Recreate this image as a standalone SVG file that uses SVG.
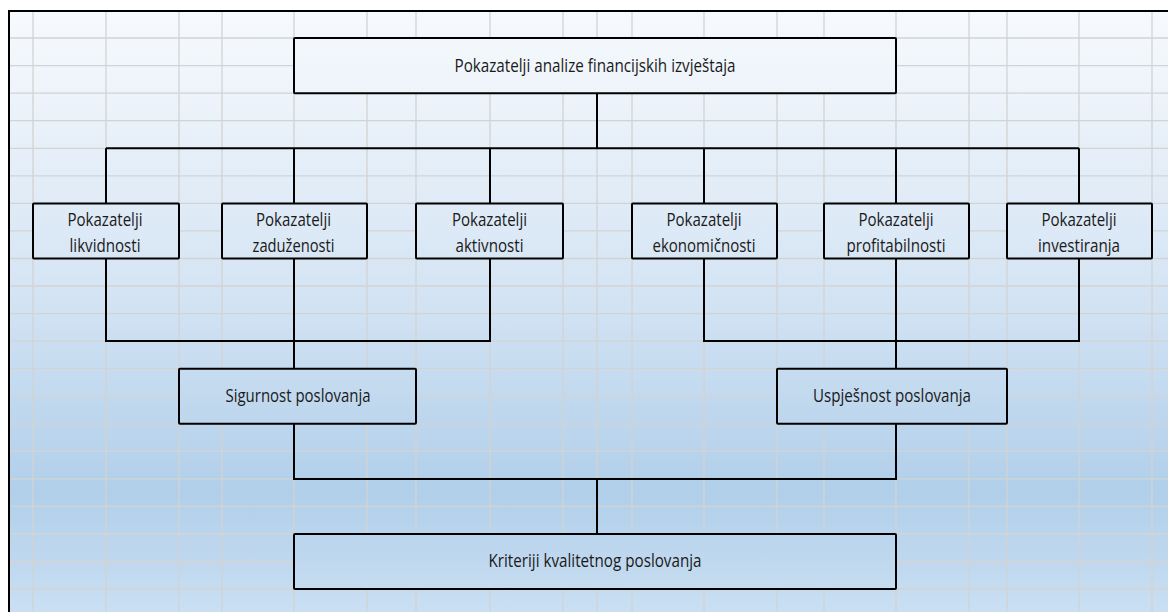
<svg xmlns="http://www.w3.org/2000/svg" width="1168" height="612" viewBox="0 0 1168 612">
  <style>
    .grid line { stroke: #d3d3d3; stroke-width: 1.3; }
    .frame { stroke: #000; stroke-width: 2; fill: none; }
    .box { fill: url(#bg); stroke: #000; stroke-width: 2; }
    .conn { fill: none; stroke: #000; stroke-width: 2; }
    text { font-family: "Open Sans", "Noto Sans", sans-serif; font-size: 17.5px; fill: #1a1a1a; text-anchor: middle; }
  </style>
  <defs>
    <linearGradient id="bg" gradientUnits="userSpaceOnUse" x1="0" y1="11" x2="0" y2="612">
      <stop offset="0" stop-color="#f7fafd"/>
      <stop offset="0.45" stop-color="#d6e5f4"/>
      <stop offset="0.8" stop-color="#b1cfea"/>
      <stop offset="1" stop-color="#cadff2"/>
    </linearGradient>
  </defs>
  <rect x="0" y="0" width="1168" height="612" fill="#ffffff"/>
  <rect x="9" y="11" width="1159" height="601" fill="url(#bg)"/>
  <g class="grid">
    <line x1="33" y1="11" x2="33" y2="612"/>
    <line x1="106" y1="11" x2="106" y2="612"/>
    <line x1="179" y1="11" x2="179" y2="612"/>
    <line x1="222" y1="11" x2="222" y2="612"/>
    <line x1="294" y1="11" x2="294" y2="612"/>
    <line x1="367" y1="11" x2="367" y2="612"/>
    <line x1="416" y1="11" x2="416" y2="612"/>
    <line x1="490" y1="11" x2="490" y2="612"/>
    <line x1="563" y1="11" x2="563" y2="612"/>
    <line x1="597" y1="11" x2="597" y2="612"/>
    <line x1="632" y1="11" x2="632" y2="612"/>
    <line x1="704" y1="11" x2="704" y2="612"/>
    <line x1="777" y1="11" x2="777" y2="612"/>
    <line x1="824" y1="11" x2="824" y2="612"/>
    <line x1="896" y1="11" x2="896" y2="612"/>
    <line x1="969" y1="11" x2="969" y2="612"/>
    <line x1="1007" y1="11" x2="1007" y2="612"/>
    <line x1="1079" y1="11" x2="1079" y2="612"/>
    <line x1="1152" y1="11" x2="1152" y2="612"/>
    <line x1="9" y1="38" x2="1168" y2="38"/>
    <line x1="9" y1="65.6" x2="1168" y2="65.6"/>
    <line x1="9" y1="93.2" x2="1168" y2="93.2"/>
    <line x1="9" y1="120.7" x2="1168" y2="120.7"/>
    <line x1="9" y1="148.3" x2="1168" y2="148.3"/>
    <line x1="9" y1="175.8" x2="1168" y2="175.8"/>
    <line x1="9" y1="203.4" x2="1168" y2="203.4"/>
    <line x1="9" y1="230.9" x2="1168" y2="230.9"/>
    <line x1="9" y1="258.5" x2="1168" y2="258.5"/>
    <line x1="9" y1="286" x2="1168" y2="286"/>
    <line x1="9" y1="313.6" x2="1168" y2="313.6"/>
    <line x1="9" y1="341.1" x2="1168" y2="341.1"/>
    <line x1="9" y1="368.7" x2="1168" y2="368.7"/>
    <line x1="9" y1="396.2" x2="1168" y2="396.2"/>
    <line x1="9" y1="423.8" x2="1168" y2="423.8"/>
    <line x1="9" y1="451.3" x2="1168" y2="451.3"/>
    <line x1="9" y1="478.9" x2="1168" y2="478.9"/>
    <line x1="9" y1="506.4" x2="1168" y2="506.4"/>
    <line x1="9" y1="534" x2="1168" y2="534"/>
    <line x1="9" y1="561.5" x2="1168" y2="561.5"/>
    <line x1="9" y1="589" x2="1168" y2="589"/>
  </g>
  <path class="frame" d="M9 612 V11 H1168"/>
  <g id="connectors" class="conn">
    <path d="M597 93 V148.3"/>
    <path d="M106 148.3 H1079"/>
    <path d="M106 148.3 V203.4 M294 148.3 V203.4 M490 148.3 V203.4 M704 148.3 V203.4 M896 148.3 V203.4 M1079 148.3 V203.4"/>
    <path d="M106 258.5 V341.1 H490 V258.5 M294 258.5 V368.7"/>
    <path d="M704 258.5 V341.1 H1079 V258.5 M896 258.5 V368.7"/>
    <path d="M294 423.8 V478.9 H896 V423.8 M597 478.9 V534"/>
  </g>
  <g id="node-top">
    <rect class="box" x="294" y="38" width="602" height="55.2" rx="1"/>
    <text x="595" y="72.3" textLength="281" lengthAdjust="spacingAndGlyphs">Pokazatelji analize financijskih izvještaja</text>
  </g>
  <g id="node-likvidnost">
    <rect class="box" x="33" y="203.4" width="146" height="55.1" rx="1"/>
    <text x="105" y="225.7" textLength="75" lengthAdjust="spacingAndGlyphs">Pokazatelji</text>
    <text x="105" y="252" textLength="71" lengthAdjust="spacingAndGlyphs">likvidnosti</text>
  </g>
  <g id="node-zaduzenost">
    <rect class="box" x="222" y="203.4" width="145" height="55.1" rx="1"/>
    <text x="293.5" y="225.7" textLength="75" lengthAdjust="spacingAndGlyphs">Pokazatelji</text>
    <text x="293.5" y="252" textLength="82" lengthAdjust="spacingAndGlyphs">zaduženosti</text>
  </g>
  <g id="node-aktivnost">
    <rect class="box" x="416" y="203.4" width="147" height="55.1" rx="1"/>
    <text x="489.5" y="225.7" textLength="75" lengthAdjust="spacingAndGlyphs">Pokazatelji</text>
    <text x="489.5" y="252" textLength="68" lengthAdjust="spacingAndGlyphs">aktivnosti</text>
  </g>
  <g id="node-ekonomicnost">
    <rect class="box" x="632" y="203.4" width="145" height="55.1" rx="1"/>
    <text x="704" y="225.7" textLength="75" lengthAdjust="spacingAndGlyphs">Pokazatelji</text>
    <text x="704" y="252" textLength="103" lengthAdjust="spacingAndGlyphs">ekonomičnosti</text>
  </g>
  <g id="node-profitabilnost">
    <rect class="box" x="824" y="203.4" width="145" height="55.1" rx="1"/>
    <text x="896" y="225.7" textLength="75" lengthAdjust="spacingAndGlyphs">Pokazatelji</text>
    <text x="896" y="252" textLength="99" lengthAdjust="spacingAndGlyphs">profitabilnosti</text>
  </g>
  <g id="node-investiranje">
    <rect class="box" x="1007" y="203.4" width="145" height="55.1" rx="1"/>
    <text x="1079" y="225.7" textLength="75" lengthAdjust="spacingAndGlyphs">Pokazatelji</text>
    <text x="1079" y="252" textLength="82" lengthAdjust="spacingAndGlyphs">investiranja</text>
  </g>
  <g id="node-sigurnost">
    <rect class="box" x="179" y="368.7" width="237" height="55.1" rx="1"/>
    <text x="298" y="402" textLength="145" lengthAdjust="spacingAndGlyphs">Sigurnost poslovanja</text>
  </g>
  <g id="node-uspjesnost">
    <rect class="box" x="777" y="368.7" width="230" height="55.1" rx="1"/>
    <text x="892" y="402" textLength="158" lengthAdjust="spacingAndGlyphs">Uspješnost poslovanja</text>
  </g>
  <g id="node-kriteriji">
    <rect class="box" x="294" y="534" width="602" height="55" rx="1"/>
    <text x="595" y="567.3" textLength="213" lengthAdjust="spacingAndGlyphs">Kriteriji kvalitetnog poslovanja</text>
  </g>
</svg>
